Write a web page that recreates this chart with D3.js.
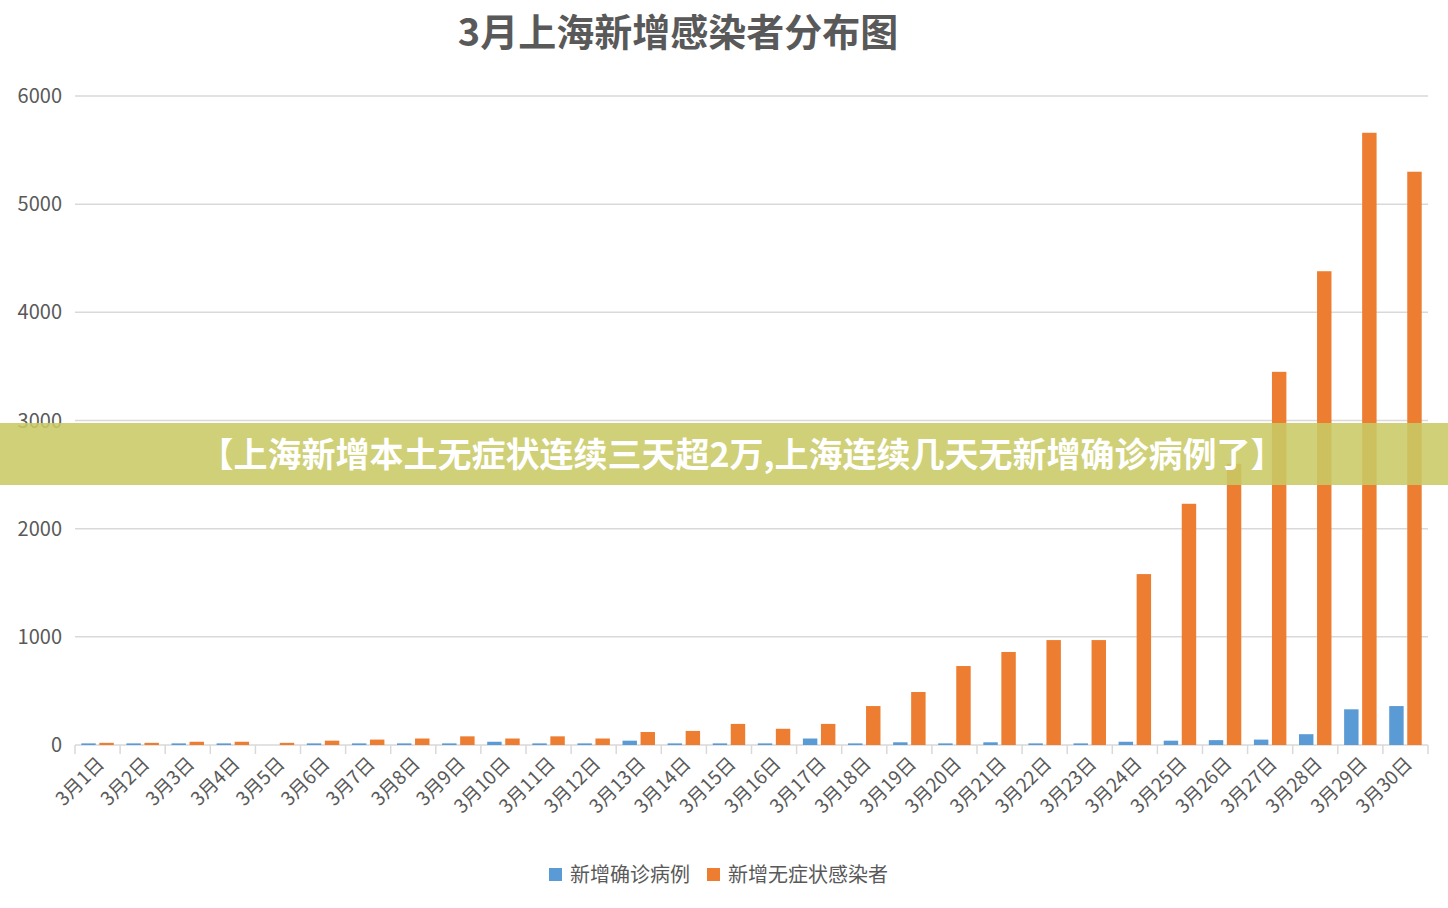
<!DOCTYPE html>
<html><head><meta charset="utf-8">
<script src="https://cdn.jsdelivr.net/npm/d3@7/dist/d3.min.js"></script>
<style>body{margin:0;background:#fff}svg{display:block}</style></head>
<body><script>
const categories = d3.range(1,31).map(d=>`3月${d}日`);
const confirmed = [15,15,15,15,0,15,15,15,15,30,15,15,40,15,15,15,60,15,25,15,25,15,15,30,40,45,50,100,330,360];
const asymptomatic = [20,20,30,30,20,40,50,60,80,60,80,60,120,130,195,150,195,360,490,730,860,970,970,1580,2230,2600,3450,4380,5660,5300];
const yTicks = [0,1000,2000,3000,4000,5000,6000];
const seriesNames = ["新增确诊病例","新增无症状感染者"];
const colors = ["#5b9bd5","#ed7d31"];
const W=1448,H=908, font='"Noto Sans CJK SC","Noto Sans",sans-serif';
const svg=d3.select("body").append("svg").attr("width",W).attr("height",H).style("font-family",font);
const m={l:75,r:20,t:96,b:163};
const x=d3.scaleBand().domain(categories).range([m.l,W-m.r]).paddingInner(0.28).paddingOuter(0.14);
const x1=d3.scaleBand().domain([0,1]).range([0,x.bandwidth()]).paddingInner(0.2);
const y=d3.scaleLinear().domain([0,6000]).range([H-m.b,m.t]);
svg.append("text").attr("x",678).attr("y",46).attr("text-anchor","middle").attr("font-size",38).attr("font-weight","bold").attr("fill","#595959").text("3月上海新增感染者分布图");
svg.append("g").selectAll("line").data(yTicks).join("line").attr("x1",m.l).attr("x2",W-m.r).attr("y1",d=>y(d)).attr("y2",d=>y(d)).attr("stroke","#d9d9d9").attr("stroke-width",1.5);
svg.append("g").selectAll("text").data(yTicks).join("text").attr("x",62).attr("y",d=>y(d)+7).attr("text-anchor","end").attr("font-size",20).attr("fill","#595959").text(d=>d);
svg.append("g").selectAll("line").data(d3.range(31)).join("line").attr("x1",i=>m.l+i*(W-m.r-m.l)/30).attr("x2",i=>m.l+i*(W-m.r-m.l)/30).attr("y1",y(0)).attr("y2",y(0)+9).attr("stroke","#d9d9d9").attr("stroke-width",1.5);
[confirmed,asymptomatic].forEach((s,k)=>{
 svg.append("g").selectAll("rect").data(s).join("rect").attr("x",(d,i)=>x(categories[i])+x1(k)).attr("width",x1.bandwidth()).attr("y",d=>y(d)).attr("height",d=>y(0)-y(d)).attr("fill",colors[k]);
});
svg.append("g").selectAll("text").data(categories).join("text").attr("transform",d=>`translate(${x(d)+x.bandwidth()/2+8},${y(0)+20}) rotate(-45)`).attr("text-anchor","end").attr("font-size",19).attr("fill","#595959").text(d=>d);
const lg=svg.append("g");
[[549,seriesNames[0]],[707,seriesNames[1]]].forEach(([lx,t],k)=>{
 lg.append("rect").attr("x",lx).attr("y",868).attr("width",13).attr("height",13).attr("fill",colors[k]);
 lg.append("text").attr("x",lx+21).attr("y",882).attr("font-size",20).attr("fill","#595959").text(t);
});
svg.append("rect").attr("x",0).attr("y",423).attr("width",W).attr("height",62).attr("fill","rgba(200,202,100,0.88)");
svg.append("text").attr("x",742).attr("y",467).attr("text-anchor","middle").attr("font-size",34).attr("font-weight","bold").attr("fill","#fff").text("【上海新增本土无症状连续三天超2万,上海连续几天无新增确诊病例了】");
</script></body></html>
